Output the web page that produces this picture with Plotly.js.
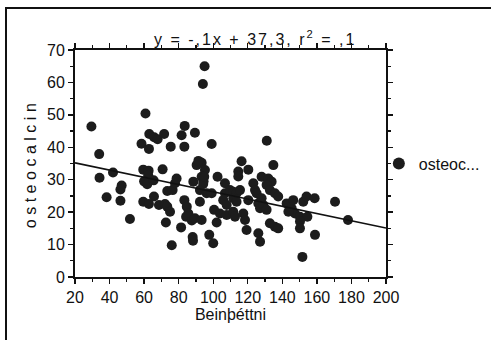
<!DOCTYPE html>
<html>
<head>
<meta charset="utf-8">
<script src="https://cdn.plot.ly/plotly-3.0.1.min.js"></script>
<style>
  html, body { margin: 0; padding: 0; background: #fff; overflow: hidden; }
  #frame { position: absolute; left: 5px; top: 7px; width: 520px; height: 360px; border: 2px solid #111; box-sizing: border-box; }
  #chart { position: absolute; left: 0; top: 0; width: 491px; height: 340px; }
  #chart .ytitle { letter-spacing: 4.5px; }
  #chart .annotation-text { letter-spacing: 2px; }
</style>
</head>
<body>
<div id="frame"></div>
<div id="chart"></div>
<script>
// bone density (Beinþéttni) values
const beinthettni = [
  29.5, 34, 34.2, 42, 38.3, 47, 46.3, 46.3, 51.8,
  60.8, 58.5, 62.8, 63, 65.8, 67.8, 71.6, 75.4, 59.5, 62.6, 70.7, 62.4, 60, 61.8, 65.5,
  59.5, 62.8, 65.7, 68.6, 72.1, 73.4, 75, 72.6, 76, 73.4, 76.5, 77.9, 78.8, 81.4,
  81.7, 83.5, 83.3, 89.4, 83.3, 84.7, 85.6, 84.3, 87.6, 89.4, 88.1, 88.3, 88.5,
  90.4, 93.3, 95.2, 93.3, 94.4, 94.2, 92.3, 96.2, 99.1, 92.3, 93.3, 91.4, 95, 94, 99.1,
  97.7, 100, 100.5, 102, 102.5, 94.8,
  106.8, 103.9, 107.8, 111.6, 112.6, 106.8, 105.8, 107.8, 109.7, 111.6, 113.5, 115.5,
  111.6, 113.5, 116.4, 120.3, 114.5, 114.5, 120.3, 117.4, 118.4, 119.3,
  123.2, 124.2, 125.1, 126.1, 127.1, 128, 131.9, 133.8, 130.9, 132.8, 135.7, 137.6,
  128, 129, 130.9, 134.8, 131, 132.8, 135.7, 137.6, 126.1, 127.1,
  142.5, 145.4, 147.3, 150.2, 154.5, 150.2, 150.2, 158.9, 146.3, 152.1, 154, 158.7,
  170.5, 178, 151.6, 143.5
];
// osteocalcin values
const osteocalcin = [
  46.4, 37.9, 30.6, 32.2, 24.6, 28.2, 27, 23.5, 17.9,
  50.4, 41.1, 39.5, 44.1, 43.1, 42.5, 44.1, 40.2, 33.1, 32.8, 33.2, 31.3, 29.5, 28.6, 29.8,
  23.2, 22.5, 24.8, 22.2, 22.5, 21.7, 20.1, 16.8, 9.8, 26.5, 26.8, 28.9, 30.4, 15.3,
  43.7, 46.6, 40.2, 44.5, 23.7, 21.7, 19.6, 18.6, 17.4, 18.1, 12.3, 11.2, 29.4,
  34.5, 35.2, 33, 30.9, 29.5, 28.7, 26.8, 25.8, 25.8, 23.2, 17.6, 35.8, 65, 59.5, 41,
  13, 10.4, 20.7, 16.8, 30.9, 30.9,
  28.9, 19.6, 19.1, 20.1, 18.6, 25.8, 23.7, 22.2, 26.8, 26.3, 25.8, 26.8,
  24.3, 23.2, 35.7, 33.1, 32.5, 31, 23.7, 19.6, 17.6, 14.5,
  28.9, 26.8, 25.8, 22.7, 21.2, 30.9, 30.4, 29.4, 28.4, 26.8, 25.8, 24.8,
  24.3, 22.2, 20.7, 34.5, 42, 16.6, 15.5, 15, 13.5, 10.9,
  22.7, 21.2, 19.6, 18.6, 18.6, 17.1, 15, 13, 23.7, 23.2, 24.8, 24.3,
  23.2, 17.6, 6.2, 20.1
];
// regression line end points
const fitX = [20, 200];
const fitY = [35.2, 15.1];

const xTicks = [20, 40, 60, 80, 100, 120, 140, 160, 180, 200];
const yTicks = [0, 10, 20, 30, 40, 50, 60, 70];

const seriesName = "osteoc...";
const titleText = "y = -,1x + 37,3, r<sup>2</sup> = ,1";
const xTitle = "Beinþéttni";
const yTitle = "osteocalcin";

const FONT = "Liberation Sans, Arial, sans-serif";

const traces = [
  {
    x: beinthettni, y: osteocalcin, type: "scatter", mode: "markers", name: seriesName,
    marker: { color: "#1c1c1c", size: 10 }, showlegend: true
  },
  {
    x: fitX, y: fitY, type: "scatter", mode: "lines",
    line: { color: "#111", width: 1.6 }, showlegend: false, hoverinfo: "skip"
  }
];

const axisCommon = {
  showgrid: false, zeroline: false, showline: true, linecolor: "#111", linewidth: 2,
  mirror: "allticks", ticks: "outside", ticklen: 5, tickwidth: 1.3, tickcolor: "#111",
  tickfont: { family: FONT, size: 16, color: "#111" }
};

const layout = {
  width: 491, height: 340,
  margin: { l: 75, r: 105, t: 50, b: 63, autoexpand: false },
  paper_bgcolor: "rgba(0,0,0,0)", plot_bgcolor: "rgba(0,0,0,0)",
  font: { family: FONT, color: "#111" },
  xaxis: Object.assign({}, axisCommon, {
    range: [20, 200], tickvals: xTicks, ticktext: xTicks.map(String),
    minor: { dtick: 10, tick0: 0, ticks: "outside", ticklen: 3, tickcolor: "#111" },
    title: { text: xTitle, font: { family: FONT, size: 16, color: "#111" }, standoff: 4 }
  }),
  yaxis: Object.assign({}, axisCommon, {
    range: [0, 70], tickvals: yTicks, ticktext: yTicks.map(String),
    minor: { dtick: 5, tick0: 0, ticks: "outside", ticklen: 3, tickcolor: "#111" },
    title: { text: yTitle, font: { family: FONT, size: 16, color: "#111" }, standoff: 6 }
  }),
  legend: {
    x: 0.977, xanchor: "left", y: 0.5, yanchor: "middle",
    font: { family: FONT, size: 16, color: "#111" },
    bgcolor: "rgba(0,0,0,0)", itemsizing: "constant"
  },
  annotations: [{
    text: titleText, xref: "paper", yref: "paper", x: 0.58, y: 1, xanchor: "center", yanchor: "bottom",
    showarrow: false, font: { family: FONT, size: 16, color: "#111" }
  }]
};

Plotly.newPlot("chart", traces, layout, { displayModeBar: false, staticPlot: true });
</script>
</body>
</html>
